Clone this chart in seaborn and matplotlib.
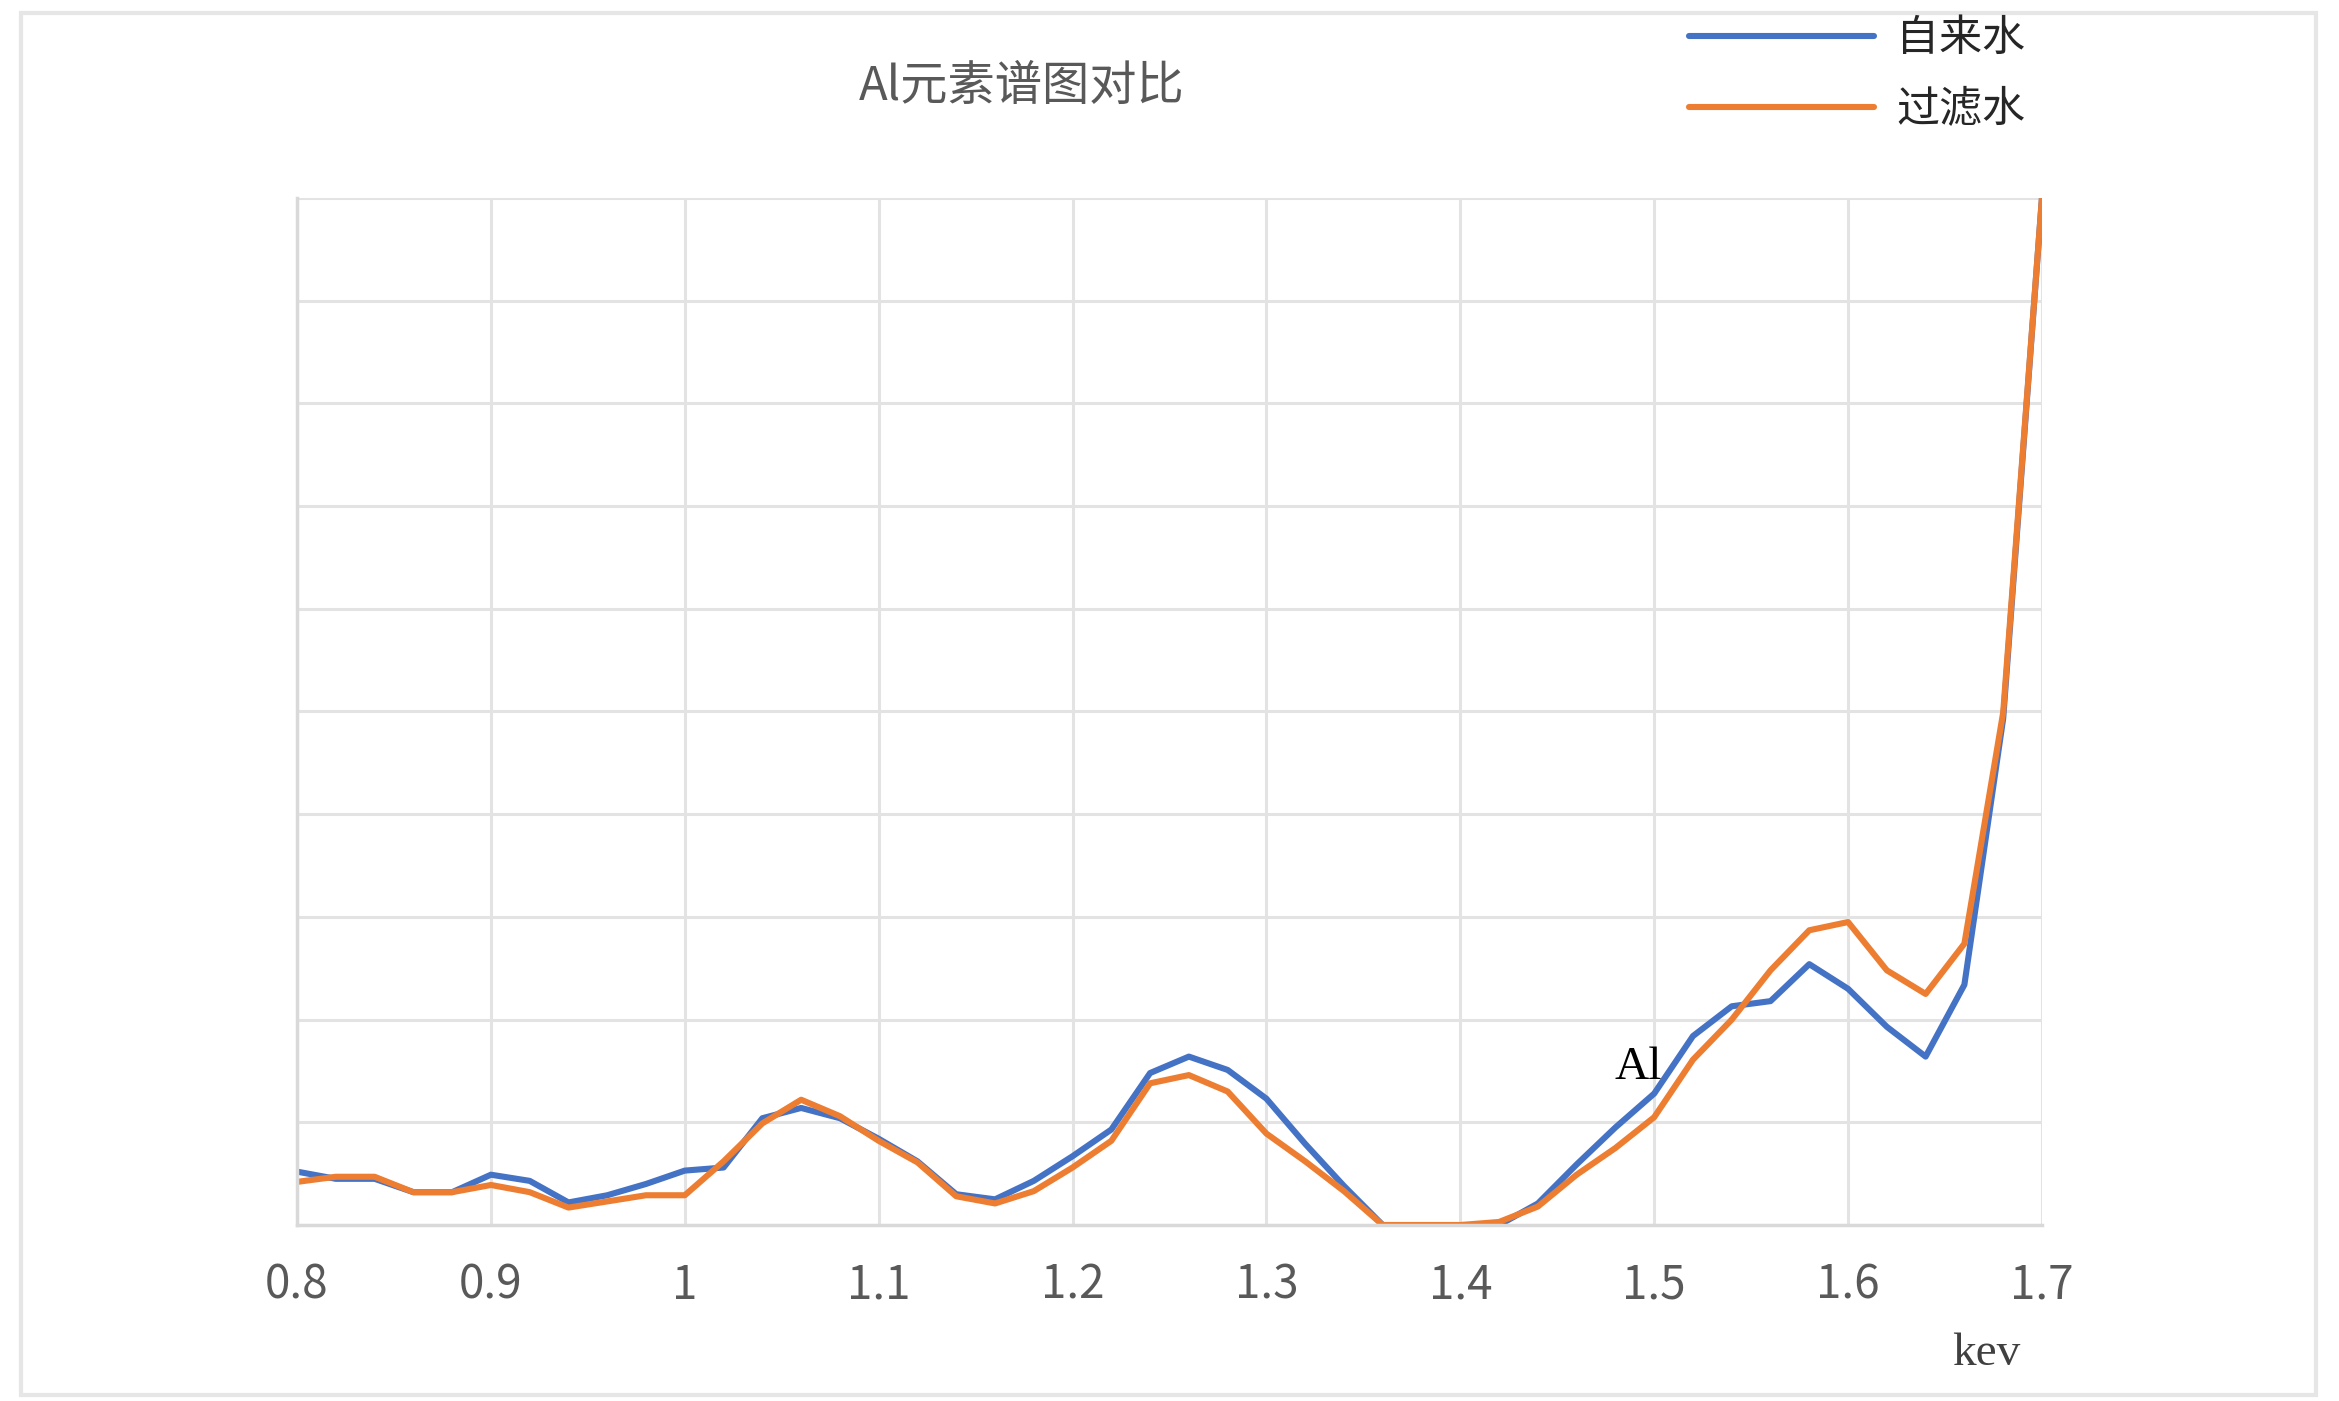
import pandas as pd
import numpy as np
import matplotlib
matplotlib.use("Agg")
import matplotlib.pyplot as plt
import seaborn as sns

# energy axis (keV) and two spectra
energy = [0.80, 0.82, 0.84, 0.86, 0.88, 0.90, 0.92, 0.94, 0.96, 0.98,
          1.00, 1.02, 1.04, 1.06, 1.08, 1.10, 1.12, 1.14, 1.16, 1.18,
          1.20, 1.22, 1.24, 1.26, 1.28, 1.30, 1.32, 1.34, 1.36, 1.38,
          1.40, 1.42, 1.44, 1.46, 1.48, 1.50, 1.52, 1.54, 1.56, 1.58,
          1.60, 1.62, 1.64, 1.66, 1.68, 1.70]

tap_water = [0.52, 0.45, 0.45, 0.32, 0.32, 0.49, 0.43, 0.22, 0.29, 0.40,
             0.53, 0.56, 1.04, 1.14, 1.04, 0.84, 0.62, 0.30, 0.25, 0.43,
             0.67, 0.93, 1.48, 1.64, 1.51, 1.23, 0.79, 0.38, 0.00, 0.00,
             0.00, 0.00, 0.21, 0.59, 0.95, 1.28, 1.84, 2.13, 2.18, 2.54,
             2.30, 1.93, 1.64, 2.34, 4.93, 10.0]

filtered_water = [0.42, 0.47, 0.47, 0.32, 0.32, 0.39, 0.32, 0.17, 0.23, 0.29,
                  0.29, 0.62, 0.99, 1.22, 1.06, 0.82, 0.61, 0.28, 0.21, 0.33,
                  0.56, 0.82, 1.38, 1.46, 1.30, 0.89, 0.62, 0.33, 0.00, 0.00,
                  0.00, 0.03, 0.18, 0.49, 0.75, 1.05, 1.61, 2.00, 2.48, 2.87,
                  2.95, 2.48, 2.25, 2.74, 4.99, 10.0]

series_names = ["自来水", "过滤水"]
colors = ["#4472C4", "#ED7D31"]
x_ticks = [0.8, 0.9, 1.0, 1.1, 1.2, 1.3, 1.4, 1.5, 1.6, 1.7]
x_tick_labels = ["0.8", "0.9", "1", "1.1", "1.2", "1.3", "1.4", "1.5", "1.6", "1.7"]

df = pd.DataFrame({
    "keV": energy * 2,
    "value": tap_water + filtered_water,
    "sample": [series_names[0]] * len(energy) + [series_names[1]] * len(energy),
})

sns.set_theme(style="white")
plt.rcParams["font.family"] = ["Noto Sans CJK SC", "DejaVu Sans"]

fig = plt.figure(figsize=(23.39, 14.01), dpi=100)
ax = fig.add_axes([0.127, 0.1256, 0.746, 0.7331])

sns.lineplot(data=df, x="keV", y="value", hue="sample",
             palette=dict(zip(series_names, colors)), linewidth=4.4,
             ax=ax, legend=True)

ax.set_xlim(0.8, 1.7)
ax.set_ylim(0, 10)
ax.set_xticks(x_ticks)
ax.set_xticklabels(x_tick_labels, fontsize=33, color="#595959")
ax.set_yticks(range(0, 11))
ax.set_yticklabels([])
ax.tick_params(axis="both", length=0, pad=26)
ax.grid(True, color="#E3E3E3", linewidth=2.2)
ax.set_axisbelow(True)
ax.set_xlabel("")
ax.set_ylabel("")
for side in ["top", "right"]:
    ax.spines[side].set_visible(False)
for side in ["left", "bottom"]:
    ax.spines[side].set_color("#D9D9D9")
    ax.spines[side].set_linewidth(2.5)

# peak label
ax.text(1.492, 1.53, "Al", ha="center", va="center", fontsize=34,
        family="Liberation Serif", color="black")

handles, labels = ax.get_legend_handles_labels()
ax.get_legend().remove()
fig.legend(handles, labels, loc="upper left", bbox_to_anchor=(0.713, 1.003),
           frameon=False, fontsize=31, handlelength=4.3, handletextpad=0.5,
           labelspacing=0.62, borderpad=0, labelcolor="#262626")

fig.text(0.437, 0.938, "Al元素谱图对比", ha="center", va="center",
         fontsize=34, color="#595959")
fig.text(0.849, 0.034, "kev", ha="center", va="center", fontsize=34,
         family="Liberation Serif", color="#404040")

# light frame around the whole chart
fig.patches.append(plt.Rectangle((0.009, 0.004), 0.981, 0.987,
                                 transform=fig.transFigure, fill=False,
                                 edgecolor="#E6E6E6", linewidth=3))

fig.savefig("out.png", dpi=100, facecolor="white")
